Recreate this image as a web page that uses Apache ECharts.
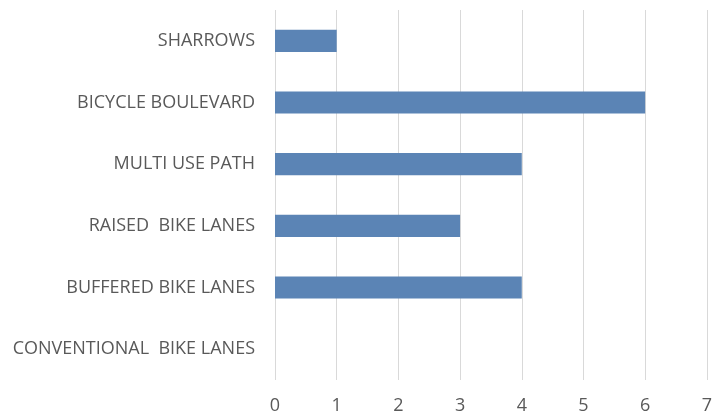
<!DOCTYPE html>
<html>
<head>
    <meta charset="utf-8" />
    <script src="https://cdn.jsdelivr.net/npm/echarts@6/dist/echarts.min.js"></script>
    <style>
        html, body { margin: 0; padding: 0; background: #fff; }
    </style>
</head>
<body>
    <div id="main" style="width: 715px; height: 417px;"></div>
    <script type="text/javascript">
        // categories listed bottom to top (ECharts category y-axis starts at bottom)
        var categories = [
            'CONVENTIONAL  BIKE LANES',
            'BUFFERED BIKE LANES',
            'RAISED  BIKE LANES',
            'MULTI USE PATH',
            'BICYCLE BOULEVARD',
            'SHARROWS'
        ];
        var counts = [0, 4, 3, 4, 6, 1];
        var xTicks = [0, 1, 2, 3, 4, 5, 6, 7];

        var myChart = echarts.init(document.getElementById('main'));

        var option = {
            animation: false,
            textStyle: { fontFamily: 'Open Sans' },
            grid: {
                left: 275,
                right: 4,
                top: 10,
                bottom: 37
            },
            xAxis: {
                type: 'value',
                min: xTicks[0],
                max: xTicks[xTicks.length - 1],
                interval: 1,
                axisLine: { show: false },
                axisTick: { show: false },
                axisLabel: {
                    color: '#595959',
                    fontSize: 18,
                    margin: 17
                },
                splitLine: {
                    show: true,
                    lineStyle: { color: '#d9d9d9', width: 1 }
                }
            },
            yAxis: {
                type: 'category',
                data: categories,
                axisLine: { show: false },
                axisTick: { show: false },
                axisLabel: {
                    color: '#595959',
                    fontSize: 18,
                    margin: 20
                },
                splitLine: { show: false }
            },
            series: [
                {
                    type: 'bar',
                    data: counts,
                    barWidth: '36%',
                    itemStyle: { color: '#5b84b5' }
                }
            ]
        };

        myChart.setOption(option);
    </script>
</body>
</html>
